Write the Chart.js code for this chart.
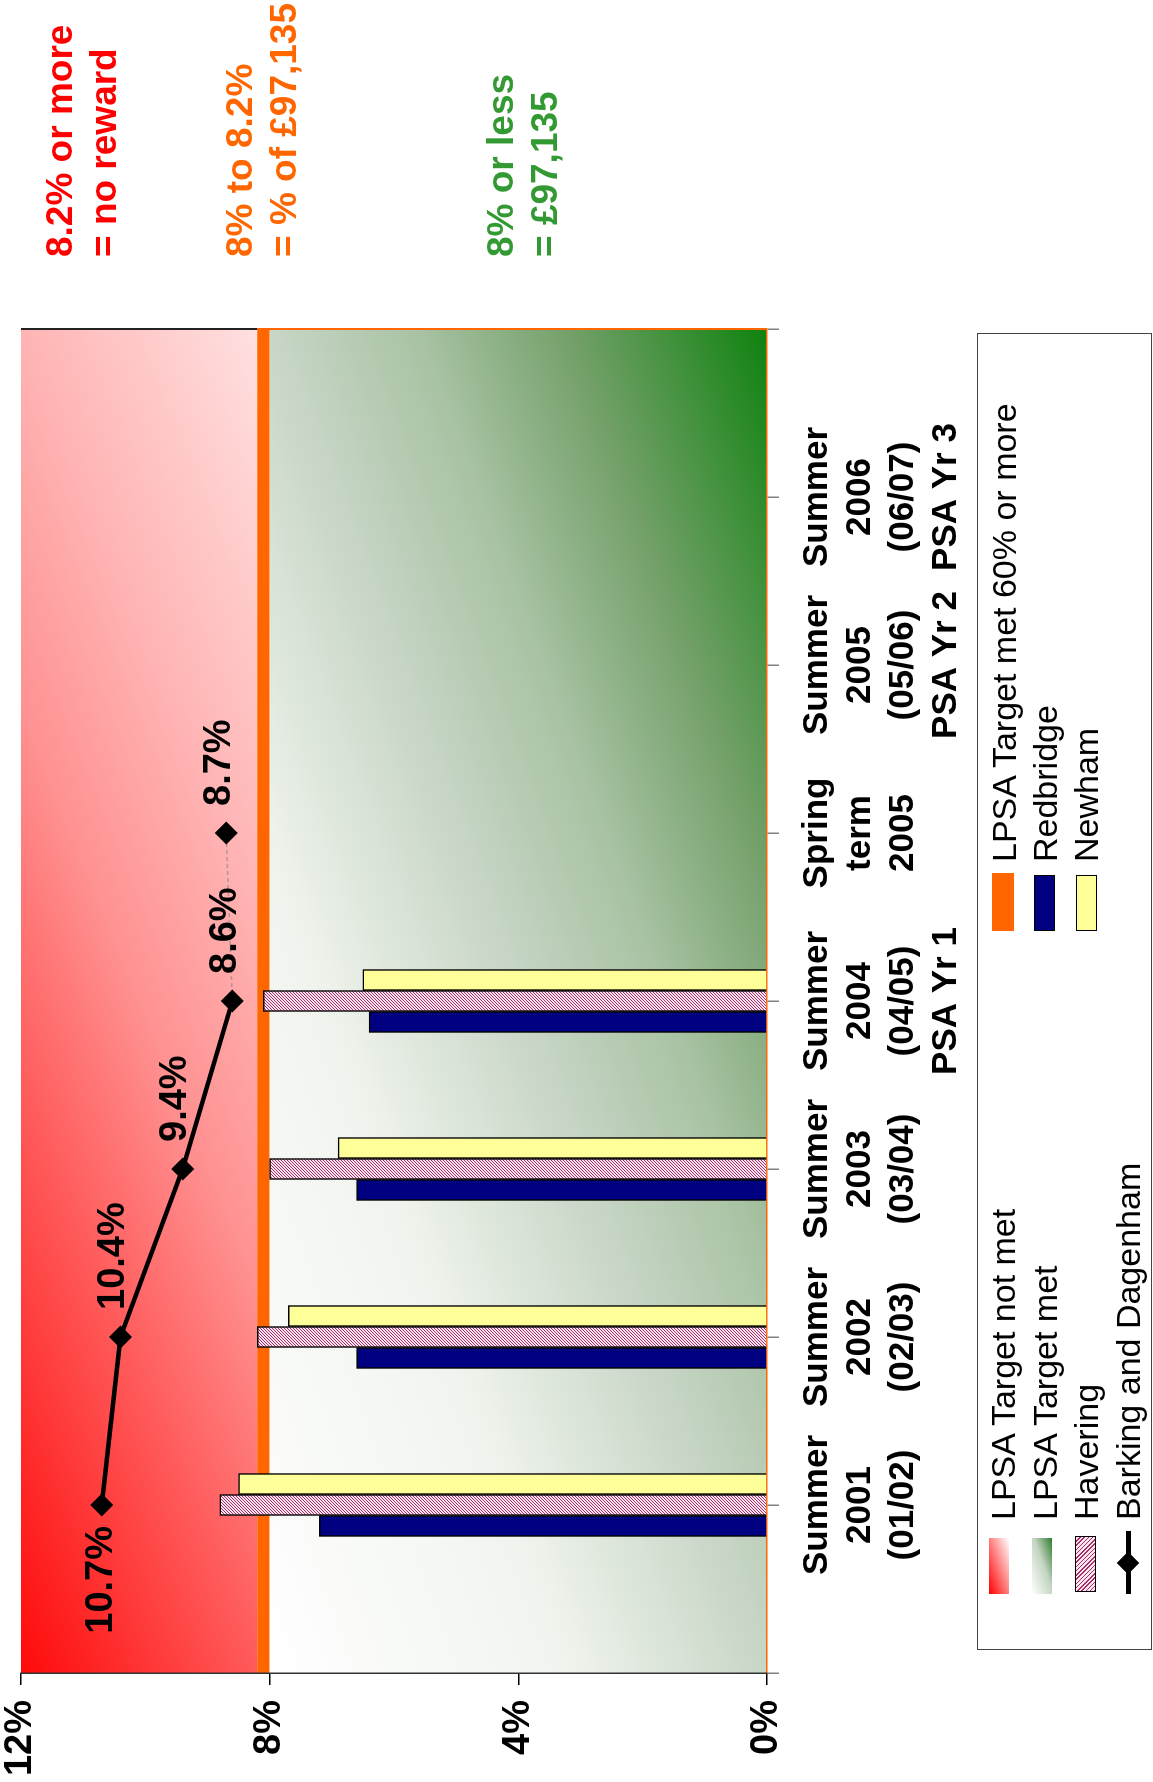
<!DOCTYPE html>
<html>
<head>
<meta charset="utf-8">
<title>LPSA target chart</title>
<script src="https://cdn.jsdelivr.net/npm/chart.js@4/dist/chart.umd.min.js"></script>
<style>
  html, body { margin: 0; padding: 0; background: #fff; overflow: hidden; }
  body { width: 1153px; height: 1782px; position: relative; font-family: "Liberation Sans", Arial, sans-serif; }
  /* the whole chart is laid out landscape and turned a quarter left */
  #frame { position: absolute; left: 0; top: 0; width: 1782px; height: 1153px;
           transform-origin: 0 0; transform: translate(0, 1782px) rotate(-90deg); }
  #chart { position: absolute; left: 0; top: 0; }
  .note { position: absolute; left: 1525px; font-weight: bold; font-size: 37px; line-height: 44px; white-space: nowrap; }
  #legendBox { position: absolute; left: 132px; top: 977px; width: 1317px; height: 175px;
               border: 1.5px solid #444; box-sizing: border-box; }
  .item { position: absolute; font-size: 34px; line-height: 34px; white-space: nowrap; color: #000; }
  .sw { position: absolute; box-sizing: border-box; }
</style>
</head>
<body>
<div id="frame">
  <canvas id="chart" width="1782" height="1153"></canvas>

  <div class="note" style="top:38px;color:#ff0000">8.2% or more<br>= no reward</div>
  <div class="note" style="top:218px;color:#ff6600">8% to 8.2%<br>= % of £97,135</div>
  <div class="note" style="top:479px;color:#339933">8% or less<br>= £97,135</div>

  <div id="legendBox"></div>
  <!-- column 1 -->
  <div class="sw" style="left:188px;top:989px;width:56px;height:20px;background:linear-gradient(to bottom right,#ff0000,#ffffff)"></div>
  <div class="item" style="left:262px;top:986px">LPSA Target not met</div>
  <div class="sw" style="left:188px;top:1032px;width:56px;height:20px;background:linear-gradient(to bottom right,#ffffff,#c3d4c1 55%,#2f7d2f)"></div>
  <div class="item" style="left:262px;top:1028px">LPSA Target met</div>
  <div class="sw" style="left:190px;top:1075px;width:56px;height:21px;border:1.5px solid #000;background:repeating-linear-gradient(45deg,#a3306a 0px,#a3306a 1px,#fce4ee 1px,#fce4ee 3px)"></div>
  <div class="item" style="left:262px;top:1069px">Havering</div>
  <div class="sw" style="left:188px;top:1126px;width:63px;height:5px;background:#000"></div>
  <div class="sw" style="left:211px;top:1120px;width:16px;height:16px;background:#000;transform:rotate(45deg)"></div>
  <div class="item" style="left:262px;top:1111px">Barking and Dagenham</div>
  <!-- column 2 -->
  <div class="sw" style="left:851px;top:992px;width:58px;height:22px;background:#ff6600"></div>
  <div class="item" style="left:920px;top:987px">LPSA Target met 60% or more</div>
  <div class="sw" style="left:851px;top:1034px;width:56px;height:21px;border:1.5px solid #000;background:#000080"></div>
  <div class="item" style="left:920px;top:1028px">Redbridge</div>
  <div class="sw" style="left:851px;top:1076px;width:56px;height:21px;border:1.5px solid #000;background:#ffff99"></div>
  <div class="item" style="left:920px;top:1069px">Newham</div>
</div>

<script>
// categories (first and last slots are empty, the axis puts ticks on the categories)
const categories = [
  '',
  ['Summer', '2001', '(01/02)'],
  ['Summer', '2002', '(02/03)'],
  ['Summer', '2003', '(03/04)'],
  ['Summer', '2004', '(04/05)', 'PSA Yr 1'],
  ['Spring', 'term', '2005'],
  ['Summer', '2005', '(05/06)', 'PSA Yr 2'],
  ['Summer', '2006', '(06/07)', 'PSA Yr 3'],
  ''
];
const redbridge = [null, 7.2, 6.6, 6.6, 6.4, null, null, null, null];
const havering  = [null, 8.8, 8.2, 8.0, 8.1, null, null, null, null];
const newham    = [null, 8.5, 7.7, 6.9, 6.5, null, null, null, null];
const barking   = [null, 10.7, 10.4, 9.4, 8.6, 8.7, null, null, null];
const barkingDottedFrom = 4;          // Summer 2004 -> Spring 2005 is dotted
const valueTicks = [0, 4, 8, 12];
const bandEdges = [0, 8, 8.2, 12];    // met | met 60% or more | not met

Chart.defaults.font.family = '"Liberation Sans", Arial, sans-serif';
Chart.defaults.color = '#000';

var ctx = document.getElementById('chart').getContext('2d');

function makeHatch() {
    var c = document.createElement('canvas');
    c.width = 3; c.height = 3;
    var g = c.getContext('2d');
    g.fillStyle = '#fce4ee';
    g.fillRect(0, 0, 3, 3);
    g.fillStyle = '#a3306a';
    for (var i = 0; i < 3; i++) g.fillRect(i, 2 - i, 1, 1);
    return ctx.createPattern(c, 'repeat');
}
var hatch = makeHatch();

// gradient fill in the unit square of a box, like the office "diagonal" fill
function diagFill(c, x, y, w, h, ex, ey, stops) {
    c.save();
    c.translate(x, y);
    c.scale(w, h);
    var g = c.createLinearGradient(0, 0, ex, ey);
    stops.forEach(function(s) { g.addColorStop(s[0], s[1]); });
    c.fillStyle = g;
    c.fillRect(0, 0, 1, 1);
    c.restore();
}

var bandsPlugin = {
    id: 'bands',
    beforeDraw: function(chart) {
        var c = chart.ctx, a = chart.chartArea, y = chart.scales.y;
        var y0 = y.getPixelForValue(bandEdges[0]);
        var y1 = y.getPixelForValue(bandEdges[1]);
        var y2 = y.getPixelForValue(bandEdges[2]);
        var y3 = y.getPixelForValue(bandEdges[3]);
        var w = a.right - a.left;
        // target not met
        diagFill(c, a.left, y3, w, y2 - y3, 1.207, 0.517, [
            [0, 'rgb(255,10,10)'], [0.3, 'rgb(255,90,90)'], [0.5, 'rgb(255,145,145)'],
            [0.7, 'rgb(255,180,180)'], [0.85, 'rgb(255,202,202)'], [1, 'rgb(255,224,224)']
        ]);
        // target met 60% or more
        c.fillStyle = '#ff6600';
        c.fillRect(a.left, y2, w, y1 - y2);
        // target met
        diagFill(c, a.left, y1, w, y0 - y1, 1, 1, [
            [0, '#ffffff'], [0.3, 'rgb(240,244,238)'], [0.5, 'rgb(200,214,198)'],
            [0.65, 'rgb(168,194,163)'], [0.8, 'rgb(115,160,105)'], [1, 'rgb(15,130,15)']
        ]);
        // far edge of the plot
        c.save();
        c.lineWidth = 2;
        c.strokeStyle = '#222';
        c.beginPath(); c.moveTo(a.right, y3); c.lineTo(a.right, y2); c.stroke();
        c.strokeStyle = '#ff6600';
        c.beginPath(); c.moveTo(a.right, y2); c.lineTo(a.right, y0); c.stroke();
        c.restore();
    }
};

var pointLabelsPlugin = {
    id: 'pointLabels',
    afterDatasetsDraw: function(chart) {
        var meta = chart.getDatasetMeta(0);
        var c = chart.ctx;
        c.save();
        c.font = 'bold 38px "Liberation Sans", Arial, sans-serif';
        c.fillStyle = '#000';
        c.textBaseline = 'middle';
        var first = true;
        meta.data.forEach(function(pt, i) {
            var v = barking[i];
            if (v === null || v === undefined) return;
            var text = v.toFixed(1) + '%';
            if (first) {
                c.textAlign = 'right';
                c.fillText(text, pt.x - 21, pt.y);
                first = false;
            } else {
                c.textAlign = 'left';
                c.fillText(text, pt.x + 27, pt.y - 7);
            }
        });
        c.restore();
    }
};

function dotted(c, on, off) {
    return c.p0DataIndex === barkingDottedFrom ? on : off;
}

var barBase = { type: 'bar', order: 1, borderColor: '#000', borderWidth: 1.5, barThickness: 21 };

var myChart = new Chart(ctx, {
    data: {
        labels: categories,
        datasets: [
            {
                type: 'line', label: 'Barking and Dagenham', data: barking, order: 0,
                borderColor: '#000', borderWidth: 4.5, tension: 0,
                pointStyle: 'rectRot', pointRadius: 11.5, pointHoverRadius: 11.5,
                pointBackgroundColor: '#000', pointBorderColor: '#000', pointBorderWidth: 0,
                segment: {
                    borderColor: function(c) { return dotted(c, 'rgba(130,130,130,0.6)', undefined); },
                    borderWidth: function(c) { return dotted(c, 1.5, undefined); },
                    borderDash: function(c) { return dotted(c, [4, 3], undefined); }
                }
            },
            Object.assign({}, barBase, { label: 'Redbridge', data: redbridge, backgroundColor: '#000080' }),
            Object.assign({}, barBase, { label: 'Havering', data: havering, backgroundColor: hatch }),
            Object.assign({}, barBase, { label: 'Newham', data: newham, backgroundColor: '#ffff99' })
        ]
    },
    options: {
        responsive: false,
        animation: false,
        devicePixelRatio: 1,
        layout: { padding: { top: 21, right: 329, left: 0, bottom: 0 } },
        plugins: { legend: { display: false }, tooltip: { enabled: false } },
        scales: {
            x: {
                type: 'category',
                offset: false,
                grid: { offset: false, drawOnChartArea: false, drawTicks: true, tickLength: 12, color: '#808080', lineWidth: 1.5 },
                border: { color: '#ff6600', width: 1.5 },
                ticks: {
                    autoSkip: false, maxRotation: 0, minRotation: 0, padding: 17,
                    font: { size: 35, weight: 'bold', lineHeight: 1.23 }
                },
                afterFit: function(s) { s.height = 386; s.paddingLeft = 0; s.paddingRight = 0; }
            },
            y: {
                min: 0, max: 12,
                afterBuildTicks: function(s) { s.ticks = valueTicks.map(function(v) { return { value: v }; }); },
                grid: { drawOnChartArea: false, drawTicks: true, tickLength: 12, color: '#000', lineWidth: 1.5 },
                border: { color: '#333', width: 1.5 },
                ticks: {
                    padding: 15,
                    font: { size: 38, weight: 'bold' },
                    callback: function(v) { return v + '%'; }
                },
                afterFit: function(s) { s.width = 109; s.paddingTop = 0; s.paddingBottom = 0; }
            }
        }
    },
    plugins: [bandsPlugin, pointLabelsPlugin]
});
</script>
</body>
</html>
